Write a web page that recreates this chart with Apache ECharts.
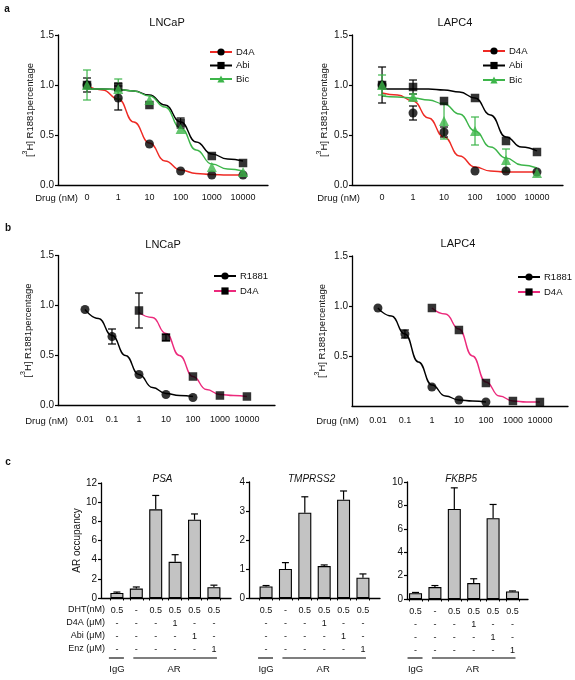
<!DOCTYPE html>
<html><head><meta charset="utf-8">
<script src="https://cdn.jsdelivr.net/npm/echarts@6/dist/echarts.min.js"></script>
<style>html,body{margin:0;padding:0;background:#fff}#c{width:575px;height:680px}</style>
</head><body><div id="c"></div>
<script>
// ---------- DATA ----------
const aDoseLabels = ['0', '1', '10', '100', '1000', '10000'];
const bDoseLabels = ['0.01', '0.1', '1', '10', '100', '1000', '10000'];

// Panel a, LNCaP (points at dose index 0..5)
const aLnD4A = [1.00, 0.87, 0.41, 0.14, 0.10, 0.10];
const aLnD4AErr = [0, 0.12, 0, 0, 0, 0];
const aLnAbi = [1.00, 0.98, 0.80, 0.62, 0.29, 0.22];
const aLnAbiErr = [0.07, 0.04, 0, 0.05, 0, 0];
const aLnBic = [1.00, 0.96, 0.85, 0.56, 0.18, 0.13];
const aLnBicErr = [0.15, 0.10, 0, 0, 0, 0];
// fitted curves read every half dose step, index 0..5
const aLnD4ACurve = [1.00, 0.95, 0.86, 0.63, 0.42, 0.24, 0.15, 0.115, 0.105, 0.10, 0.10];
const aLnAbiCurve = [0.96, 0.96, 0.955, 0.94, 0.90, 0.80, 0.63, 0.43, 0.31, 0.26, 0.24];
const aLnBicCurve = [0.96, 0.96, 0.955, 0.94, 0.89, 0.78, 0.57, 0.35, 0.21, 0.16, 0.14];

// Panel a, LAPC4
const aLaD4A = [1.00, 0.72, 0.53, 0.14, 0.14, 0.13];
const aLaD4AErr = [0, 0.07, 0.05, 0, 0, 0];
const aLaAbi = [1.00, 0.98, 0.84, 0.87, 0.44, 0.33];
const aLaAbiErr = [0.18, 0.07, 0, 0, 0, 0];
const aLaBic = [1.00, 0.88, 0.64, 0.54, 0.25, 0.12];
const aLaBicErr = [0.10, 0.03, 0.18, 0.14, 0.11, 0];
const aLaD4ACurve = [0.92, 0.90, 0.84, 0.67, 0.48, 0.29, 0.18, 0.14, 0.13, 0.13, 0.13];
const aLaAbiCurve = [0.96, 0.96, 0.96, 0.96, 0.95, 0.93, 0.87, 0.70, 0.48, 0.38, 0.34];
const aLaBicCurve = [0.89, 0.88, 0.87, 0.85, 0.81, 0.71, 0.54, 0.38, 0.27, 0.20, 0.17];

// Panel b, LNCaP (R1881 at dose index 0..4, D4A at 2..6)
const bLnR1881 = [0.96, 0.69, 0.31, 0.11, 0.08];
const bLnR1881Err = [0, 0.075, 0, 0, 0];
const bLnD4A = [0.95, 0.68, 0.29, 0.10, 0.09];
const bLnD4AErr = [0.175, 0.03, 0, 0, 0];
const bLnR1881Curve = [0.96, 0.87, 0.70, 0.50, 0.31, 0.18, 0.12, 0.10, 0.09];
const bLnD4ACurve = [0.93, 0.88, 0.72, 0.50, 0.29, 0.16, 0.11, 0.10, 0.09];

// Panel b, LAPC4
const bLaR1881 = [0.98, 0.72, 0.19, 0.06, 0.04];
const bLaR1881Err = [0, 0.04, 0, 0, 0];
const bLaD4A = [0.98, 0.76, 0.23, 0.05, 0.04];
const bLaD4AErr = [0, 0, 0, 0, 0];
const bLaR1881Curve = [0.98, 0.90, 0.72, 0.44, 0.21, 0.10, 0.06, 0.05, 0.04];
const bLaD4ACurve = [0.98, 0.92, 0.77, 0.50, 0.24, 0.10, 0.05, 0.04, 0.04];

// Panel c, AR occupancy
const psa = [0.52, 0.98, 9.25, 3.78, 8.17, 1.12];
const psaErr = [0.10, 0.17, 1.45, 0.74, 0.60, 0.22];
const tmprss2 = [0.40, 1.00, 2.94, 1.10, 3.39, 0.70];
const tmprss2Err = [0.03, 0.22, 0.55, 0.04, 0.30, 0.13];
const fkbp5 = [0.50, 1.02, 7.70, 1.36, 6.90, 0.65];
const fkbp5Err = [0.06, 0.13, 1.80, 0.37, 1.18, 0.04];
const rowDHT = ['0.5', '-', '0.5', '0.5', '0.5', '0.5'];
const rowD4A = ['-', '-', '-', '1', '-', '-'];
const rowAbi = ['-', '-', '-', '-', '1', '-'];
const rowEnz = ['-', '-', '-', '-', '-', '1'];
const rowTitles = ['DHT(nM)', 'D4A (\u03bcM)', 'Abi (\u03bcM)', 'Enz (\u03bcM)'];

// ---------- STYLE / LAYOUT ----------
const FF = '"Liberation Sans", Arial, sans-serif';
const RED = '#ee2a24', GREEN = '#3db54a', PINK = '#ec2a7c', BLACK = '#000';
const chart = echarts.init(document.getElementById('c'), null, {renderer: 'canvas'});

const grids = [
  {left: 58, top: 35, width: 210, height: 150},
  {left: 352, top: 35, width: 211, height: 150},
  {left: 58, top: 255.5, width: 217, height: 150},
  {left: 352, top: 256, width: 216, height: 150},
  {left: 101, top: 483, width: 130, height: 115},
  {left: 249, top: 482, width: 131, height: 116},
  {left: 407, top: 482, width: 121, height: 117}
];
const xRanges = [[-0.93, 5.80], [-0.97, 5.84], [-1.0, 7.04], [-0.96, 7.04], [-0.82, 5.88], [-0.88, 5.88], [-0.44, 5.80]];

const xAxes = [], yAxes = [];
const axisLine = {show: true, onZero: false, lineStyle: {color: BLACK, width: 1.3}};
function idx(n) { return Array.from({length: n}, (_, i) => i); }

for (let g = 0; g < 4; g++) {
  const labels = g < 2 ? aDoseLabels : bDoseLabels;
  xAxes.push({type: 'value', gridIndex: g, min: xRanges[g][0], max: xRanges[g][1],
    axisLine, axisTick: {show: false}, splitLine: {show: false},
    axisLabel: {customValues: idx(labels.length), formatter: v => labels[Math.round(v)],
      margin: g < 2 ? 8 : 10, fontSize: 9, color: '#111', fontFamily: FF}});
  yAxes.push({type: 'value', gridIndex: g, min: 0, max: 1.5, interval: 0.5,
    axisLine, axisTick: {show: true, length: 3, lineStyle: {width: 1.2, color: BLACK}},
    splitLine: {show: false},
    axisLabel: {margin: 4, fontSize: 10, color: '#111', fontFamily: FF, formatter: v => v.toFixed(1), showMinLabel: g !== 3},
    name: '[{s|3}H] R1881percentage', nameLocation: 'middle', nameRotate: 90, nameGap: g < 2 ? 20 : 22,
    nameTextStyle: {fontSize: 9.5, color: '#111', fontFamily: FF,
      rich: {s: {fontSize: 7, padding: [0, 0, 9, 0], fontFamily: FF, color: '#111'}}}});
}
const barSets = [
  {vals: psa, err: psaErr, max: 12, interval: 2, title: 'PSA'},
  {vals: tmprss2, err: tmprss2Err, max: 4, interval: 1, title: 'TMPRSS2'},
  {vals: fkbp5, err: fkbp5Err, max: 10, interval: 2, title: 'FKBP5'}
];
barSets.forEach((b, j) => {
  const g = 4 + j;
  const edgeTicks = [];
  idx(6).forEach(k => { edgeTicks.push(k - 0.335, k + 0.335); });
  xAxes.push({type: 'value', gridIndex: g, min: xRanges[g][0], max: xRanges[g][1],
    axisLine, splitLine: {show: false},
    axisTick: {show: true, customValues: edgeTicks, length: 2.5, lineStyle: {width: 1, color: BLACK}},
    axisLabel: {customValues: idx(6), interval: 0, margin: 6, fontSize: 9, lineHeight: 13, color: '#111', fontFamily: FF,
      formatter: v => { const k = Math.round(v); return [rowDHT[k], rowD4A[k], rowAbi[k], rowEnz[k]].join('\n'); }}});
  const y = {type: 'value', gridIndex: g, min: 0, max: b.max, interval: b.interval,
    axisLine, axisTick: {show: true, length: 3, lineStyle: {width: 1.2, color: BLACK}},
    splitLine: {show: false},
    axisLabel: {margin: 4, fontSize: 10, color: '#111', fontFamily: FF}};
  if (j === 0) Object.assign(y, {name: 'AR occupancy', nameLocation: 'middle', nameRotate: 90, nameGap: 15,
    nameTextStyle: {fontSize: 10, color: '#111', fontFamily: FF}});
  yAxes.push(y);
});

// ---------- SERIES ----------
const series = [];
function curve(g, name, start, ys, color, symColor, symbol) {
  series.push({type: 'line', name, xAxisIndex: g, yAxisIndex: g,
    data: ys.map((v, i) => [start + i * 0.5, v]), smooth: 0.5, smoothMonotone: 'x',
    showSymbol: false, symbol, symbolSize: 8, lineStyle: {color, width: 1.4},
    itemStyle: {color: symColor}, z: 2, silent: true});
}
function points(g, start, ys, symbol, size, color) {
  series.push({type: 'scatter', xAxisIndex: g, yAxisIndex: g,
    data: ys.map((v, i) => [start + i, v]), symbol, symbolSize: size,
    itemStyle: {color}, z: 4, silent: true});
}
function errBars(g, start, ys, errs, color, upOnly, capHalf, z) {
  const data = [];
  ys.forEach((v, i) => { if (errs[i] > 0) data.push([start + i, upOnly ? v : v - errs[i], v + errs[i]]); });
  series.push({type: 'custom', xAxisIndex: g, yAxisIndex: g, data, z: z, silent: true,
    renderItem: (params, api) => {
      const x = api.value(0);
      const lo = api.coord([x, api.value(1)]), hi = api.coord([x, api.value(2)]);
      const st = {stroke: color, lineWidth: 1.2};
      const ch = [
        {type: 'line', shape: {x1: lo[0], y1: lo[1], x2: hi[0], y2: hi[1]}, style: st},
        {type: 'line', shape: {x1: hi[0] - capHalf, y1: hi[1], x2: hi[0] + capHalf, y2: hi[1]}, style: st}
      ];
      if (!upOnly) ch.push({type: 'line', shape: {x1: lo[0] - capHalf, y1: lo[1], x2: lo[0] + capHalf, y2: lo[1]}, style: st});
      return {type: 'group', children: ch};
    }});
}

// a LNCaP
curve(0, 'D4A#0', 0, aLnD4ACurve, RED, BLACK, 'circle');
curve(0, 'Abi#0', 0, aLnAbiCurve, BLACK, BLACK, 'rect');
curve(0, 'Bic#0', 0, aLnBicCurve, GREEN, GREEN, 'triangle');
errBars(0, 0, aLnD4A, aLnD4AErr, BLACK, false, 4, 3);
errBars(0, 0, aLnAbi, aLnAbiErr, BLACK, false, 4, 3);
errBars(0, 0, aLnBic, aLnBicErr, GREEN, false, 4, 3);
points(0, 0, aLnD4A, 'circle', 9, BLACK);
points(0, 0, aLnAbi, 'rect', 8.5, BLACK);
points(0, 0, aLnBic, 'triangle', 10, GREEN);
// a LAPC4
curve(1, 'D4A#1', 0, aLaD4ACurve, RED, BLACK, 'circle');
curve(1, 'Abi#1', 0, aLaAbiCurve, BLACK, BLACK, 'rect');
curve(1, 'Bic#1', 0, aLaBicCurve, GREEN, GREEN, 'triangle');
errBars(1, 0, aLaD4A, aLaD4AErr, BLACK, false, 4, 3);
errBars(1, 0, aLaAbi, aLaAbiErr, BLACK, false, 4, 3);
errBars(1, 0, aLaBic, aLaBicErr, GREEN, false, 4, 3);
points(1, 0, aLaD4A, 'circle', 9, BLACK);
points(1, 0, aLaAbi, 'rect', 8.5, BLACK);
points(1, 0, aLaBic, 'triangle', 10, GREEN);
// b LNCaP
curve(2, 'R1881#2', 0, bLnR1881Curve, BLACK, BLACK, 'circle');
curve(2, 'D4A#2', 2, bLnD4ACurve, PINK, BLACK, 'rect');
errBars(2, 0, bLnR1881, bLnR1881Err, BLACK, false, 4, 3);
errBars(2, 2, bLnD4A, bLnD4AErr, BLACK, false, 4, 3);
points(2, 0, bLnR1881, 'circle', 9, BLACK);
points(2, 2, bLnD4A, 'rect', 8.5, BLACK);
// b LAPC4
curve(3, 'R1881#3', 0, bLaR1881Curve, BLACK, BLACK, 'circle');
curve(3, 'D4A#3', 2, bLaD4ACurve, PINK, BLACK, 'rect');
errBars(3, 0, bLaR1881, bLaR1881Err, BLACK, false, 4, 3);
errBars(3, 2, bLaD4A, bLaD4AErr, BLACK, false, 4, 3);
points(3, 0, bLaR1881, 'circle', 9, BLACK);
points(3, 2, bLaD4A, 'rect', 8.5, BLACK);
// c bars
barSets.forEach((b, j) => {
  const g = 4 + j;
  errBars(g, 0, b.vals, b.err, BLACK, true, 3.5, 1);
  series.push({type: 'bar', xAxisIndex: g, yAxisIndex: g, data: b.vals.map((v, i) => [i, v]),
    barWidth: 13, itemStyle: {color: '#c3c3c3', borderColor: BLACK, borderWidth: 1.1}, z: 2, silent: true});
});

// ---------- LEGENDS ----------
function legend(left, top, names, gap) {
  return {orient: 'vertical', left, top, itemWidth: 22, itemHeight: 9, itemGap: gap, selectedMode: false,
    data: names, formatter: n => n.split('#')[0],
    textStyle: {fontSize: 9.5, lineHeight: 10, color: '#111', fontFamily: FF, padding: [0, 0, 0, -1]}};
}
const legends = [
  legend(204, 42, ['D4A#0', 'Abi#0', 'Bic#0'], 3.5),
  legend(477, 41, ['D4A#1', 'Abi#1', 'Bic#1'], 4.5),
  legend(208, 266, ['R1881#2', 'D4A#2'], 5),
  legend(512, 267, ['R1881#3', 'D4A#3'], 5)
];

chart.setOption({
  animation: false,
  backgroundColor: '#fff',
  textStyle: {fontFamily: FF},
  grid: grids,
  xAxis: xAxes,
  yAxis: yAxes,
  legend: legends,
  series
});

// ---------- TEXT ANNOTATIONS ----------
const graphics = [];
function txt(x, y, s, o) {
  graphics.push({type: 'text', x, y, silent: true,
    style: Object.assign({text: s, fontSize: 11, fontFamily: FF, fill: '#111', textAlign: 'center', textVerticalAlign: 'middle'}, o || {})});
}
function ln(x1, x2, y) {
  graphics.push({type: 'line', silent: true, shape: {x1, y1: y, x2, y2: y}, style: {stroke: BLACK, lineWidth: 1.1}});
}
txt(7, 9, 'a', {fontWeight: 'bold', fontSize: 10});
txt(8, 228, 'b', {fontWeight: 'bold', fontSize: 10});
txt(8, 462, 'c', {fontWeight: 'bold', fontSize: 10});
txt(167, 23, 'LNCaP');
txt(455, 23, 'LAPC4');
txt(163, 245, 'LNCaP');
txt(458, 244, 'LAPC4');
txt(78, 198, 'Drug (nM)', {textAlign: 'right', fontSize: 9.5});
txt(360, 198, 'Drug (nM)', {textAlign: 'right', fontSize: 9.5});
txt(68, 421, 'Drug (nM)', {textAlign: 'right', fontSize: 9.5});
txt(359, 421, 'Drug (nM)', {textAlign: 'right', fontSize: 9.5});
barSets.forEach((b, j) => {
  const g = 4 + j;
  const c0 = chart.convertToPixel({xAxisIndex: g}, 0);
  const c1 = chart.convertToPixel({xAxisIndex: g}, 1);
  const c5 = chart.convertToPixel({xAxisIndex: g}, 5);
  const cMid = chart.convertToPixel({xAxisIndex: g}, 3);
  txt(chart.convertToPixel({xAxisIndex: g}, 2.35), 479, b.title, {fontStyle: 'italic', fontSize: 10});
  ln(c0 - 8, c0 + 7, 658);
  ln(c1 - 3, c5 + 3, 658);
  txt(c0, 669, 'IgG', {fontSize: 9.5});
  txt(cMid - 1, 669, 'AR', {fontSize: 9.5});
});
rowTitles.forEach((t, i) => txt(105, 610 + i * 13, t, {textAlign: 'right', fontSize: 9}));

chart.setOption({graphic: graphics});
</script>
</body></html>
